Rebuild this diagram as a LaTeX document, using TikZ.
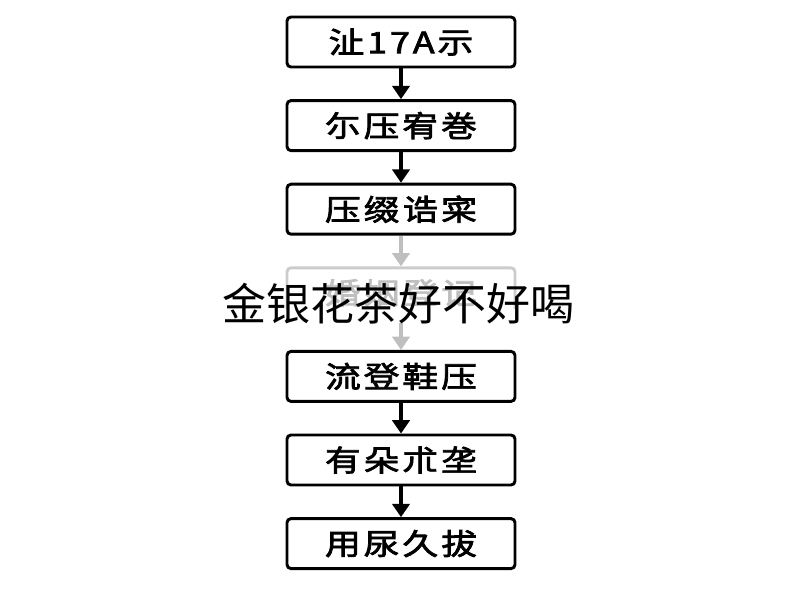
\documentclass[tikz,border=0pt]{standalone}
\usepackage{fontspec}
\usepackage{tikz}
\usetikzlibrary{positioning, arrows.meta}
\newfontfamily\boxfont[FakeStretch=1.22, LetterSpace=10, FakeBold=2.5]{Noto Sans CJK SC}
\newfontfamily\titlefont{Noto Sans CJK SC}

\tikzset{
    stepbox/.style={draw, line width=2.2pt, rounded corners=3pt, minimum width=171pt, minimum height=37.5pt,
        inner sep=0pt, font=\boxfont\fontsize{22}{25}\selectfont},
    fadedbox/.style={stepbox, draw=black!20, text=black!25},
    flow/.style={-{Triangle[width=13pt, length=10pt]}, line width=2.4pt},
    fadedflow/.style={flow, draw=black!25}
}

\begin{document}
\begin{tikzpicture}
        \useasboundingbox (0,0) rectangle (600pt,-450pt);
        \node[stepbox] (Notice) at (300.75pt,-31.5pt) {沚17A示};
        \node[stepbox, below=23pt of Notice] (Press) {尓压宥巻};
        \node[stepbox, below=23pt of Press] (Grade) {压缀诰寀};
        \node[fadedbox, below=23pt of Grade] (Marriage) {婚姻登记};
        \node[stepbox, below=23pt of Marriage] (Flow) {流登鞋压};
        \node[stepbox, below=23pt of Flow] (Rest) {有朵朮垄};
        \node[stepbox, below=23pt of Rest] (Use) {用尿久拔};
        \draw[flow] (Notice) -- (Press);
        \draw[flow] (Press) -- (Grade);
        \draw[fadedflow] (Grade) -- (Marriage);
        \draw[fadedflow] (Marriage) -- (Flow);
        \draw[flow] (Flow) -- (Rest);
        \draw[flow] (Rest) -- (Use);
        % title laid over the faded step
        \node[fill=white, inner sep=0pt, text height=0.86em, text depth=0.14em,
            font=\titlefont\fontsize{33}{36}\selectfont] (Title) at (299pt,-237pt) {金银花茶好不好喝};
    \end{tikzpicture}
\end{document}
